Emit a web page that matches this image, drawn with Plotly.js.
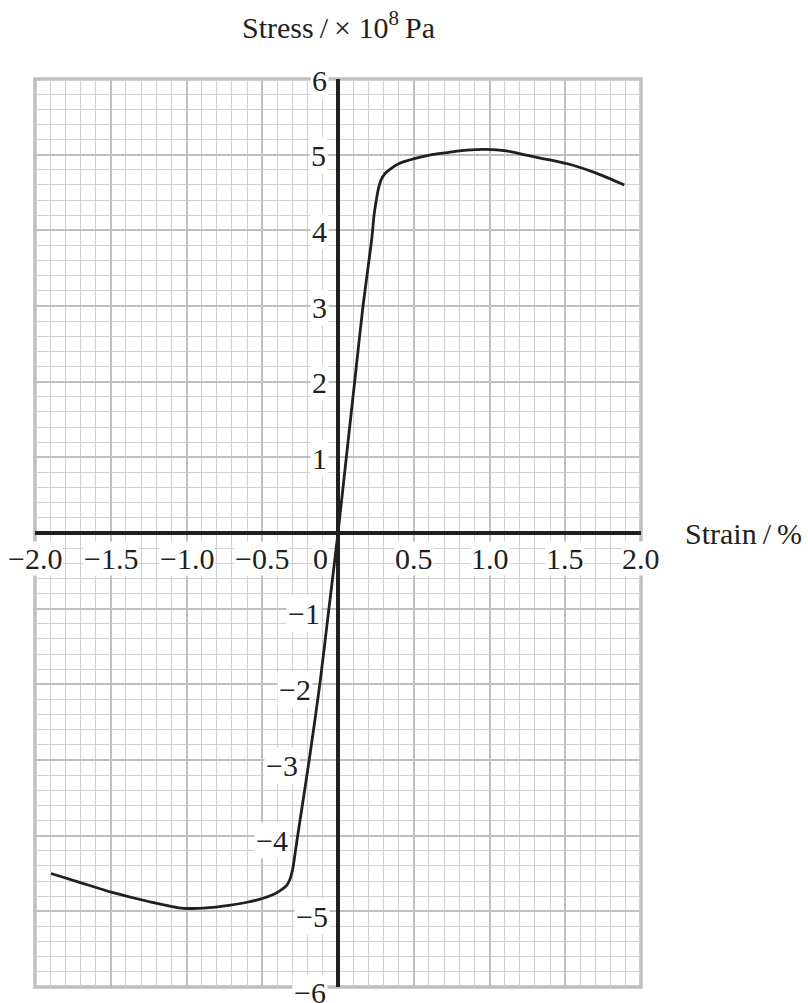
<!DOCTYPE html>
<html>
<head>
<meta charset="utf-8">
<script src="https://cdn.plot.ly/plotly-3.0.1.min.js"></script>
<style>html,body{margin:0;padding:0;background:#fff;}#chart{width:808px;height:1003px;}</style>
</head>
<body>
<div id="chart"></div>
<script>
// Strain (%) and stress (x10^8 Pa)
var strain = [-1.894, -1.7, -1.49, -1.25, -1.02, -0.85, -0.72, -0.6, -0.5, -0.42, -0.377, -0.34, -0.32, -0.30, -0.29, -0.27, -0.19, -0.12, -0.06,
              0, 0.055, 0.11, 0.165, 0.222, 0.238, 0.253, 0.268, 0.285, 0.31, 0.345, 0.40, 0.51, 0.62, 0.73, 0.85, 0.98, 1.11, 1.25, 1.4, 1.55, 1.7, 1.89];
var stress = [-4.50, -4.62, -4.75, -4.87, -4.96, -4.95, -4.92, -4.88, -4.83, -4.77, -4.72, -4.66, -4.59, -4.45, -4.33, -4.05, -3.0, -2.0, -1.0,
              0, 1, 2, 3, 3.87, 4.2, 4.4, 4.56, 4.67, 4.75, 4.81, 4.88, 4.95, 5.0, 5.03, 5.06, 5.07, 5.05, 4.99, 4.93, 4.86, 4.76, 4.60];

var xTickVals = [-2.0, -1.5, -1.0, -0.5, 0.5, 1.0, 1.5, 2.0];
var xTickText = ['\u22122.0', '\u22121.5', '\u22121.0', '\u22120.5', '0.5', '1.0', '1.5', '2.0'];
var yTickVals = [6, 5, 4, 3, 2, 1, -1, -2, -3, -4, -5, -6];
var yTickText = ['6', '5', '4', '3', '2', '1', '\u22121', '\u22122', '\u22123', '\u22124', '\u22125', '\u22126'];
var originLabel = '0';
var xTitle = 'Strain\u2009/\u2009%';
var yTitle = 'Stress\u2009/\u2009\u00d7 10<sup>8</sup>\u2009Pa';

// label placement (pixels left of the vertical axis), so labels clear the curve
var yLabelGap = [-9, -10, -9, -9, -9, -9, -16, -25, -38, -48, -8, -10];

var FONT = 'Liberation Serif, Times New Roman, serif';
var tickFont = {family: FONT, size: 30, color: '#231f20'};

var annotations = [];
xTickVals.forEach(function (v, i) {
  annotations.push({x: v, y: 0, xref: 'x', yref: 'y', text: xTickText[i], showarrow: false,
    xanchor: 'center', yanchor: 'top', yshift: -8, font: tickFont, bgcolor: '#ffffff', borderpad: 0});
});
annotations.push({x: 0, y: 0, xref: 'x', yref: 'y', text: originLabel, showarrow: false,
  xanchor: 'right', yanchor: 'top', xshift: -9, yshift: -8, font: tickFont, bgcolor: '#ffffff', borderpad: 0});
yTickVals.forEach(function (v, i) {
  annotations.push({x: 0, y: v, xref: 'x', yref: 'y', text: yTickText[i], showarrow: false,
    xanchor: 'right', yanchor: 'middle', xshift: yLabelGap[i], yshift: v < 0 ? -5 : -1,
    font: tickFont, bgcolor: '#ffffff', borderpad: 1});
});
annotations.push({x: 0, y: 1.0595, xref: 'x', yref: 'paper', text: yTitle, showarrow: false,
  xanchor: 'center', yanchor: 'middle', font: {family: FONT, size: 30, color: '#231f20'}});
annotations.push({x: 1.069, y: 0, xref: 'paper', yref: 'y', text: xTitle, showarrow: false,
  xanchor: 'left', yanchor: 'middle', font: {family: FONT, size: 30, color: '#231f20'}});

var trace = {
  x: strain, y: stress, type: 'scatter', mode: 'lines',
  line: {color: '#231f20', width: 2.8, shape: 'spline', smoothing: 0.7},
  hoverinfo: 'skip'
};

var layout = {
  width: 808, height: 1003,
  margin: {l: 35, r: 167, t: 79, b: 16, pad: 0},
  paper_bgcolor: '#ffffff', plot_bgcolor: '#ffffff',
  showlegend: false,
  xaxis: {
    range: [-2, 2], dtick: 0.5, tick0: 0, showticklabels: false, ticks: '',
    showgrid: true, gridcolor: '#bfbfbf', gridwidth: 2,
    minor: {dtick: 0.1, showgrid: true, gridcolor: '#d0d0d0', gridwidth: 1},
    zeroline: true, zerolinecolor: '#231f20', zerolinewidth: 3.5,
    showline: false, fixedrange: true
  },
  yaxis: {
    range: [-6, 6], dtick: 1, tick0: 0, showticklabels: false, ticks: '',
    showgrid: true, gridcolor: '#bfbfbf', gridwidth: 2,
    minor: {dtick: 0.2, showgrid: true, gridcolor: '#d0d0d0', gridwidth: 1},
    zeroline: true, zerolinecolor: '#231f20', zerolinewidth: 3.5,
    showline: false, fixedrange: true
  },
  shapes: [{type: 'rect', xref: 'paper', yref: 'paper', x0: 0, x1: 1, y0: 0, y1: 1,
    line: {color: '#bfbfbf', width: 3.5}, layer: 'below'}],
  annotations: annotations
};

Plotly.newPlot('chart', [trace], layout, {displayModeBar: false, staticPlot: true});
</script>
</body>
</html>
